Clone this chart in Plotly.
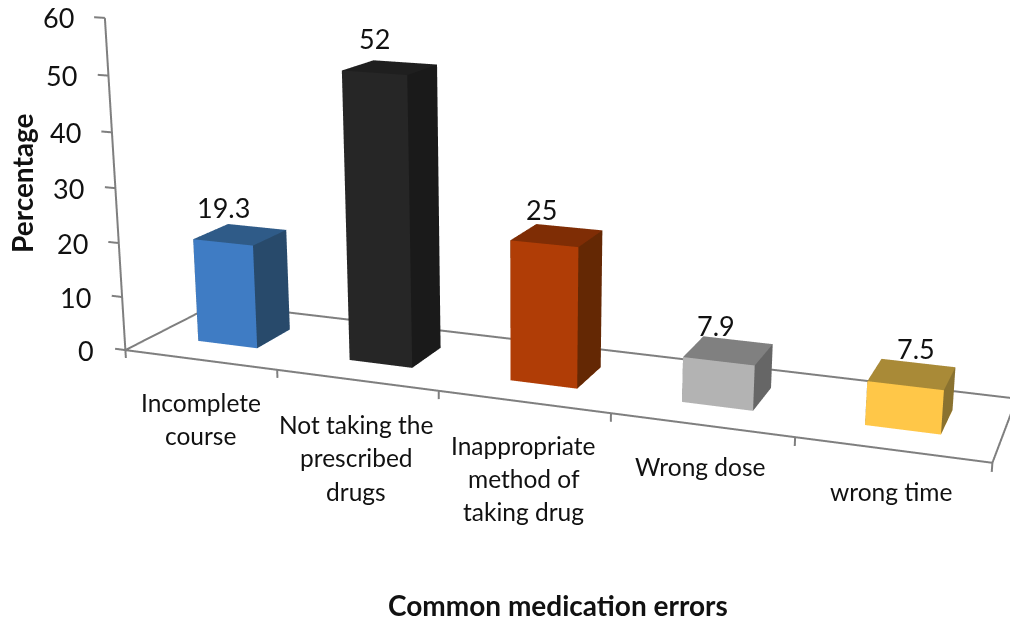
import numpy as np
import plotly.graph_objects as go

# Chart data
category_lines = [
    ["Incomplete", "course"],
    ["Not taking the", "prescribed", "drugs"],
    ["Inappropriate", "method of", "taking drug"],
    ["Wrong dose"],
    ["wrong time"],
]
values = [19.3, 52, 25, 7.9, 7.5]
z_ticks = [0, 10, 20, 30, 40, 50, 60]

# Face colours per bar
front_colors = ["#3F7CC4", "#262626", "#B03D06", "#B3B3B3", "#FFC748"]
top_colors = ["#2F5B88", "#1F1F1F", "#7F2D05", "#808080", "#A98A37"]
side_colors = ["#284A6B", "#1A1A1A", "#642804", "#666666", "#8A7230"]
axis_color = "#7F7F7F"
text_color = "#111111"

# Scene geometry: x is the category slot, y the depth of the floor (0 front, 1 back)
BAR_HALF_WIDTH = 0.19824
BAR_Y0, BAR_Y1 = 0.30193, 0.69190
LEAN_X_PER_Y, LEAN_X_PER_Z, LEAN_Y_PER_Z = 0.30937, -0.003199, 0.028161
X_RANGE, Y_RANGE, Z_RANGE = (-3.0, 8.0), (-2.0, 3.0), (-4.0, 64.0)
ASPECT = dict(x=8.19934, y=2.09841, z=1.46185)
CAMERA = dict(
    eye=dict(x=0.32786, y=-2.54952, z=1.54676),
    center=dict(x=-0.09328, y=-0.15576, z=-0.21181),
    up=dict(x=-0.11112, y=0.57561, z=0.81014),
    projection=dict(type="perspective"),
)
W, H = 1010, 620

# Label centres in page pixels
value_label_xy = [(223, 207), (374, 39), (541, 210), (716, 325), (916, 348)]
category_label_xy = [
    [(201, 402), (200, 435)],
    [(356, 424), (356, 457), (356, 491)],
    [(523, 445), (524, 478), (523, 511)],
    [(700, 467)],
    [(891, 491)],
]


def lean(points):
    """Apply the oblique lean of the chart box to (slot, depth, value) points."""
    p = np.asarray(points, float)
    return np.c_[
        p[:, 0] + LEAN_X_PER_Y * p[:, 1] + LEAN_X_PER_Z * p[:, 2],
        p[:, 1] + LEAN_Y_PER_Z * p[:, 2],
        p[:, 2],
    ]


def add_polyline(fig, points, width=4):
    s = lean(points)
    fig.add_trace(go.Scatter3d(
        x=s[:, 0], y=s[:, 1], z=s[:, 2], mode="lines",
        line=dict(color=axis_color, width=width), hoverinfo="skip", showlegend=False,
    ))


def page_text(text, x, y, size, bold=False, angle=0):
    label = f"<b>{text}</b>" if bold else text
    return dict(
        text=label, x=x / W, y=1 - y / H, xref="paper", yref="paper",
        xanchor="center", yanchor="middle", showarrow=False, textangle=angle,
        font=dict(family="Lato, sans-serif", size=size, color=text_color),
    )


fig = go.Figure()

# Floor outline and value axis
add_polyline(fig, [(0, 0, 60), (0, 0, 0), (0, 1, 0), (5, 1, 0), (5, 0, 0), (0, 0, 0)])
for t in z_ticks:
    add_polyline(fig, [(-0.07, 0, t), (0, 0, t)])
for slot in range(len(values) + 1):
    add_polyline(fig, [(slot, 0, 0), (slot, 0, -1.5)])

# Bars: one box per category, six flat-coloured faces
tri_i = [0, 0, 1, 1, 4, 4, 0, 0, 3, 3, 0, 0]
tri_j = [1, 5, 2, 6, 5, 6, 2, 3, 2, 6, 3, 7]
tri_k = [5, 4, 6, 5, 6, 7, 1, 2, 6, 7, 7, 4]
for n, value in enumerate(values):
    x0, x1 = n + 0.5 - BAR_HALF_WIDTH, n + 0.5 + BAR_HALF_WIDTH
    box = lean([
        [x0, BAR_Y0, 0], [x1, BAR_Y0, 0], [x1, BAR_Y1, 0], [x0, BAR_Y1, 0],
        [x0, BAR_Y0, value], [x1, BAR_Y0, value], [x1, BAR_Y1, value], [x0, BAR_Y1, value],
    ])
    faces = ([front_colors[n]] * 2 + [side_colors[n]] * 2 + [top_colors[n]] * 2
             + [front_colors[n]] * 2 + [side_colors[n]] * 4)
    fig.add_trace(go.Mesh3d(
        x=box[:, 0], y=box[:, 1], z=box[:, 2], i=tri_i, j=tri_j, k=tri_k,
        facecolor=faces, flatshading=True, hoverinfo="skip", showlegend=False,
        lighting=dict(ambient=1, diffuse=0, specular=0, roughness=1, fresnel=0),
    ))

# Value axis tick labels sit at a fixed offset left of their ticks
scene_labels = []
for t in z_ticks:
    anchor = lean([(0, 0, t)])[0]
    scene_labels.append(dict(
        x=anchor[0], y=anchor[1], z=anchor[2], text=str(t), showarrow=False,
        xanchor="right", yanchor="middle", xshift=-29,
        font=dict(family="Lato, sans-serif", size=27, color=text_color),
    ))

page_labels = []
for value, (x, y) in zip(values, value_label_xy):
    page_labels.append(page_text(str(value), x, y, 27))
for lines, spots in zip(category_lines, category_label_xy):
    for line, (x, y) in zip(lines, spots):
        page_labels.append(page_text(line, x, y, 24.5))
page_labels.append(page_text("Percentage", 22, 183, 28, bold=True, angle=-90))
page_labels.append(page_text("Common medication errors", 558, 605, 28, bold=True))

hidden = dict(visible=False)
fig.update_layout(
    width=W, height=H, margin=dict(l=0, r=0, t=0, b=0), showlegend=False,
    paper_bgcolor="white", annotations=page_labels,
    scene=dict(
        domain=dict(x=[0, 1], y=[0, 1]), aspectmode="manual", aspectratio=ASPECT,
        camera=CAMERA, annotations=scene_labels,
        xaxis=dict(range=X_RANGE, **hidden),
        yaxis=dict(range=Y_RANGE, **hidden),
        zaxis=dict(range=Z_RANGE, **hidden),
    ),
)
fig.write_html("out.html")
